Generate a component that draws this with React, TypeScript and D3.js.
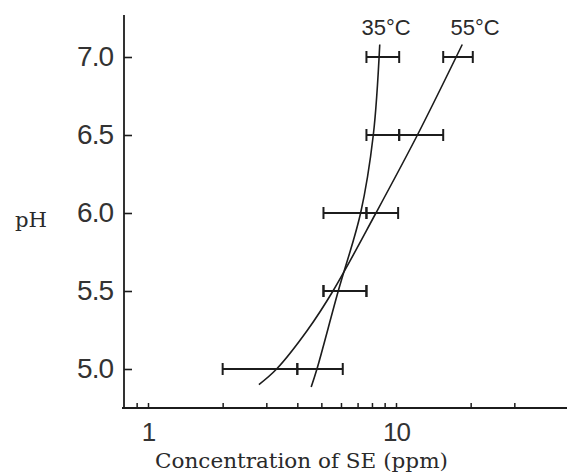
import React, { useEffect, useRef } from "react";
import * as d3 from "d3";

// pH levels where error bars sit
const phLevels = [7.0, 6.5, 6.0, 5.5, 5.0];
// error bar ranges (ppm) per pH, same order as phLevels
const bars35Lo = [7.6, 7.6, 5.1, 5.1, 4.0];
const bars35Hi = [10.3, 10.3, 7.6, 7.6, 6.1];
const bars55Lo = [15.5, 10.3, 7.6, 5.1, 2.0];
const bars55Hi = [20.4, 15.5, 10.2, 7.6, 4.0];

// fitted curves: pH and concentration (ppm)
const curve35Ph = [7.08, 6.5, 6.0, 5.5, 5.0, 4.885];
const curve35Val = [8.6, 8.1, 7.2, 5.85, 4.8, 4.55];
const curve55Ph = [7.08, 6.5, 6.0, 5.5, 5.25, 5.0, 4.9];
const curve55Val = [18.5, 12.2, 8.3, 5.57, 4.4, 3.3, 2.8];

const yTicks = [5.0, 5.5, 6.0, 6.5, 7.0];
const xTicks = [0.9, 1, 2, 3, 4, 5, 6, 7, 8, 9, 10, 20, 30];
const xLabels = [1, 10];

const ink = "#1c1c1c";

export default function App() {
  const ref = useRef<SVGSVGElement>(null);

  useEffect(() => {
    const svg = d3.select(ref.current);
    svg.selectAll("*").remove();

    const x = d3.scaleLog().domain([1, 10]).range([148, 396]);
    const y = d3.scaleLinear().domain([5, 7]).range([369, 57]);

    const axisX0 = 124;
    const axisY0 = 408;

    // y axis
    const gy = svg.append("g")
      .attr("transform", `translate(${axisX0},0)`)
      .call(d3.axisLeft(y).tickValues(yTicks).tickSize(-8).tickPadding(11).tickFormat(d3.format(".1f")));
    gy.select(".domain").remove();
    gy.selectAll("line").attr("stroke", ink).attr("stroke-width", 1.6);
    gy.selectAll("text")
      .attr("font-family", "'Liberation Sans', Arial, sans-serif")
      .attr("font-size", 28)
      .attr("letter-spacing", -1)
      .attr("fill", "#333");

    // x axis
    const gx = svg.append("g")
      .attr("transform", `translate(0,${axisY0})`)
      .call(d3.axisBottom(x).tickValues(xTicks).tickSize(-5).tickPadding(15)
        .tickFormat(d => (xLabels.includes(+d) ? String(d) : "")));
    gx.select(".domain").remove();
    gx.selectAll("line").attr("stroke", ink).attr("stroke-width", 1.5);
    gx.selectAll("text")
      .attr("font-family", "'Liberation Sans', Arial, sans-serif")
      .attr("font-size", 26)
      .attr("letter-spacing", -1)
      .attr("fill", "#333");

    // axis lines
    svg.append("line")
      .attr("x1", axisX0).attr("x2", axisX0)
      .attr("y1", 15).attr("y2", axisY0)
      .attr("stroke", ink).attr("stroke-width", 1.8);
    svg.append("line")
      .attr("x1", axisX0 - 2).attr("x2", 567)
      .attr("y1", axisY0).attr("y2", axisY0)
      .attr("stroke", ink).attr("stroke-width", 1.8);

    // error bars
    const bars = phLevels.flatMap((ph, i) => [
      { ph, lo: bars35Lo[i], hi: bars35Hi[i] },
      { ph, lo: bars55Lo[i], hi: bars55Hi[i] },
    ]);
    const capH = 6;
    const gb = svg.append("g").attr("stroke", ink).attr("stroke-width", 2);
    bars.forEach(b => {
      gb.append("line")
        .attr("x1", x(b.lo)).attr("x2", x(b.hi))
        .attr("y1", y(b.ph)).attr("y2", y(b.ph));
      [b.lo, b.hi].forEach(v => {
        gb.append("line")
          .attr("x1", x(v)).attr("x2", x(v))
          .attr("y1", y(b.ph) - capH).attr("y2", y(b.ph) + capH);
      });
    });

    // fitted curves
    const line = d3.line<[number, number]>()
      .x(d => x(d[1]))
      .y(d => y(d[0]))
      .curve(d3.curveCatmullRom.alpha(0.5));
    const c35 = curve35Ph.map((p, i) => [p, curve35Val[i]] as [number, number]);
    const c55 = curve55Ph.map((p, i) => [p, curve55Val[i]] as [number, number]);
    [c35, c55].forEach(c => {
      svg.append("path")
        .attr("d", line(c))
        .attr("fill", "none")
        .attr("stroke", ink)
        .attr("stroke-width", 1.6);
    });

    // curve labels
    const lab = svg.append("g")
      .attr("font-family", "'Liberation Sans', Arial, sans-serif")
      .attr("font-size", 22)
      .attr("fill", "#2a2a2a")
      .attr("text-anchor", "middle");
    lab.append("text").attr("x", 386).attr("y", 35).text("35°C");
    lab.append("text").attr("x", 475).attr("y", 35).text("55°C");

    // axis titles
    svg.append("text")
      .attr("x", 15).attr("y", 227)
      .attr("font-family", "'DejaVu Serif', serif")
      .attr("font-size", 21)
      .attr("fill", "#2a2a2a")
      .attr("textLength", 32)
      .attr("lengthAdjust", "spacingAndGlyphs")
      .text("pH");
    svg.append("text")
      .attr("x", 155).attr("y", 468)
      .attr("font-family", "'DejaVu Serif', serif")
      .attr("font-size", 21)
      .attr("fill", "#2a2a2a")
      .attr("textLength", 293)
      .attr("lengthAdjust", "spacingAndGlyphs")
      .text("Concentration of SE (ppm)");
  }, []);

  return (
    <svg
      ref={ref}
      width={567}
      height={475}
      style={{ position: "absolute", left: 0, top: 0, background: "#fff" }}
    />
  );
}
